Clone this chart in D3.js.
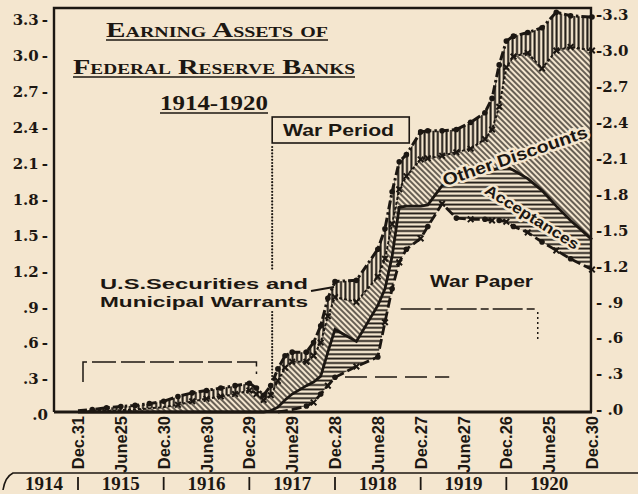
<!DOCTYPE html>
<html><head><meta charset="utf-8">
<script src="https://cdn.jsdelivr.net/npm/d3@7"></script>
<style>
html,body{margin:0;padding:0;background:#f4e6cf;}
svg{display:block;}
</style></head><body>
<svg id="chart" width="638" height="494"></svg>
<script>
// months after Dec 31, 1914
const months = [0,2,4,6,8,10,12,14,16,18,20,22,24,25,26,27,28,29,30,32,33,34,35,36,39,42,43,44,45,46,48,49,51,53,55,57,58,59,60,61,63,65,67,69,72];
// billions of dollars, cumulative boundaries (top to bottom)
const totalAssets = [0.01,0.02,0.035,0.045,0.055,0.07,0.09,0.13,0.16,0.18,0.2,0.22,0.24,0.2,0.14,0.22,0.36,0.47,0.5,0.5,0.58,0.72,0.95,1.09,1.1,1.36,1.53,1.84,2.09,2.15,2.34,2.35,2.35,2.36,2.42,2.5,2.62,2.9,3.1,3.14,3.17,3.21,3.34,3.31,3.3];
const lessSecurities = [0,0.005,0.01,0.015,0.02,0.03,0.04,0.06,0.09,0.11,0.13,0.15,0.18,0.15,0.1,0.14,0.26,0.37,0.42,0.42,0.47,0.58,0.8,0.96,0.92,1.13,1.28,1.57,1.86,1.97,2.11,2.12,2.14,2.17,2.2,2.28,2.36,2.55,2.88,2.97,3.0,2.87,3.02,3.05,3.02];
const warPaperAndAcceptances = [0,0,0,0,0,0,0,0,0,0,0,0,0,0,0,0.01,0.04,0.1,0.15,0.22,0.25,0.3,0.5,0.69,0.59,0.89,1.03,1.3,1.71,1.72,1.72,1.73,1.89,1.93,1.97,2.0,2.02,2.04,2.05,2.02,1.95,1.85,1.72,1.6,1.44];
const warPaper = [0,0,0,0,0,0,0,0,0,0,0,0,0,0,0,0,0,0.01,0.02,0.05,0.08,0.15,0.22,0.29,0.38,0.46,0.75,1.03,1.25,1.36,1.45,1.55,1.74,1.62,1.61,1.61,1.6,1.6,1.59,1.55,1.5,1.42,1.35,1.28,1.19];

const dateTickMonths = [0,6,12,18,24,30,36,42,48,54,60,66,72];
const dateTickLabels = ["Dec.31","June25","Dec.30","June30","Dec.29","June29","Dec.28","June28","Dec.27","June27","Dec.26","June25","Dec.30"];
const yearLabels = ["1914","1915","1916","1917","1918","1919","1920"];
const yTicks = [0,0.3,0.6,0.9,1.2,1.5,1.8,2.1,2.4,2.7,3.0,3.3];
const yTickLabels = [".0",".3",".6",".9","1.2","1.5","1.8","2.1","2.4","2.7","3.0","3.3"];
const warStart = 27.2, warEnd = 46.4;

const ink = "#1c1712", bg = "#f4e6cf";
const svg = d3.select("#chart");
svg.append("rect").attr("width",638).attr("height",494).attr("fill",bg);

const x = d3.scaleLinear().domain([0,72]).range([78,592]);
const y = d3.scaleLinear().domain([0,3.3]).range([412,17]);

const defs = svg.append("defs");
function hatch(id, angle, sw, size){
  const p = defs.append("pattern").attr("id",id).attr("patternUnits","userSpaceOnUse")
    .attr("width",size).attr("height",size).attr("patternTransform",`rotate(${angle})`);
  p.append("rect").attr("width",size).attr("height",size).attr("fill",bg);
  p.append("line").attr("x1",size/2).attr("x2",size/2).attr("y1",-1).attr("y2",size+1)
    .attr("stroke",ink).attr("stroke-width",sw);
}
hatch("vh",0,2,4.4);
hatch("dh",-45,1.3,4);
hatch("hh",90,1.8,4.4);

const pts = months.map((m,i)=>({m, t:totalAssets[i], s:lessSecurities[i], a:warPaperAndAcceptances[i], w:warPaper[i]}));

// bands
const band = (lo,hi)=>d3.area().x(d=>x(d.m)).y0(d=>y(d[lo])).y1(d=>y(d[hi]));
svg.append("path").datum(pts).attr("d",band("s","t")).attr("fill","url(#vh)");
svg.append("path").datum(pts).attr("d",band("a","s")).attr("fill","url(#dh)");
svg.append("path").datum(pts).attr("d",band("w","a")).attr("fill","url(#hh)");

// frame
svg.append("path").attr("d",`M54,412V8H591V412`).attr("fill","none").attr("stroke",ink).attr("stroke-width",2.4);
svg.append("line").attr("x1",54).attr("x2",592).attr("y1",412).attr("y2",412).attr("stroke",ink).attr("stroke-width",3);

// lines
const line = k=>d3.line().x(d=>x(d.m)).y(d=>y(d[k]));
svg.append("path").datum(pts.filter(d=>d.m>=28)).attr("d",line("w")).attr("fill","none").attr("stroke",ink).attr("stroke-width",2.8).attr("stroke-dasharray","10,4");
svg.append("path").datum(pts).attr("d",line("a")).attr("fill","none").attr("stroke",ink).attr("stroke-width",2.8);
svg.append("path").datum(pts).attr("d",line("s")).attr("fill","none").attr("stroke",ink).attr("stroke-width",2).attr("stroke-dasharray","3,2");
svg.append("path").datum(pts).attr("d",line("t")).attr("fill","none").attr("stroke",ink).attr("stroke-width",3).attr("stroke-dasharray","9,3,2.5,3");

// markers
svg.append("g").selectAll("circle").data(pts.filter(d=>d.m>=2)).join("circle")
  .attr("cx",d=>x(d.m)).attr("cy",d=>y(d.t)).attr("r",2.8).attr("fill",ink);
const xm = "M-2.8,-2.8L2.8,2.8M-2.8,2.8L2.8,-2.8";
svg.append("g").selectAll("path").data(pts.filter(d=>d.m>=14)).join("path")
  .attr("transform",d=>`translate(${x(d.m)},${y(d.s)})`).attr("d",xm).attr("stroke",ink).attr("stroke-width",2);
const wp = pts.filter(d=>d.m>=32);
svg.append("g").selectAll("g").data(wp).join(function(enter){
  const g = enter.append("g").attr("transform",d=>`translate(${x(d.m)},${y(d.w)})`);
  g.each(function(d,i){
    if(i%2===0) d3.select(this).append("circle").attr("r",2.8).attr("fill",ink);
    else d3.select(this).append("path").attr("d",xm).attr("stroke",ink).attr("stroke-width",2);
  });
  return g;
});

// y axis labels
const serif = "'DejaVu Serif', serif", sans = "'Liberation Sans', Arial, sans-serif";
svg.append("g").selectAll("text").data(yTicks).join("text")
  .attr("x",48).attr("y",d=>y(d)+3).attr("dy","0.35em").attr("text-anchor","end")
  .attr("font-family",serif).attr("font-weight","bold").attr("font-size",15).attr("fill",ink)
  .text((d,i)=>yTickLabels[i] + (i>0?"\u2009-":""));
svg.append("g").selectAll("text").data(yTicks).join("text")
  .attr("x",596).attr("y",d=>y(d)-2).attr("dy","0.35em").attr("text-anchor","start")
  .attr("font-family",serif).attr("font-weight","bold").attr("font-size",15).attr("fill",ink)
  .text((d,i)=>(d<1?"- ":"-") + yTickLabels[i]);

// x date labels
svg.append("g").selectAll("text").data(dateTickMonths).join("text")
  .attr("transform",d=>`translate(${x(d)},416) rotate(-90)`).attr("dy","0.37em").attr("text-anchor","end")
  .attr("font-family",sans).attr("font-weight","bold").attr("font-size",16.5).attr("fill",ink)
  .text((d,i)=>dateTickLabels[i]);

// year row
svg.append("path").attr("d","M3,490Q5,477 13,473H638").attr("fill","none").attr("stroke",ink).attr("stroke-width",1.6);
svg.append("g").selectAll("line").data([0,12,24,36,48,60]).join("line")
  .attr("x1",d=>x(d)).attr("x2",d=>x(d)).attr("y1",477).attr("y2",490).attr("stroke",ink).attr("stroke-width",1.8);
svg.append("g").selectAll("text").data(yearLabels).join("text")
  .attr("x",(d,i)=>Math.max(44,x(12*i-6))).attr("y",490).attr("text-anchor","middle")
  .attr("font-family","'Liberation Serif', serif").attr("font-weight","bold").attr("font-size",19).attr("fill",ink)
  .text(d=>d);

// title
const titleLines = [["Earning Assets of",106,328,37],["Federal Reserve Banks",73,355,74],["1914-1920",160,268,110]];
titleLines.forEach(([t,x0,x1,yb])=>{
  svg.append("text").attr("x",x0).attr("y",yb).attr("textLength",x1-x0).attr("lengthAdjust","spacingAndGlyphs")
    .attr("font-family","'Liberation Serif', serif").attr("font-weight","bold").attr("font-size",22)
    .style("font-variant","small-caps").attr("fill",ink).text(t);
  svg.append("line").attr("x1",x0).attr("x2",x1).attr("y1",yb+3).attr("y2",yb+3).attr("stroke",ink).attr("stroke-width",1.6);
});

// war period box and dotted war line
const xw0 = x(warStart), xw1 = x(warEnd);
svg.append("rect").attr("x",xw0).attr("y",117).attr("width",xw1-xw0).attr("height",26).attr("fill",bg).attr("stroke",ink).attr("stroke-width",1.6);
svg.append("text").attr("x",283).attr("y",136).attr("textLength",111).attr("lengthAdjust","spacingAndGlyphs")
  .attr("font-family",sans).attr("font-weight","bold").attr("font-size",17).attr("fill",ink).text("War Period");
[[147,270],[312,381]].forEach(([a,b])=>{
  svg.append("g").selectAll("circle").data(d3.range(a,b,3.2)).join("circle")
    .attr("cx",xw0).attr("cy",d=>d).attr("r",1.1).attr("fill",ink);
});

// brackets
svg.append("path").attr("d",`M${x(0.7)},382V362H${x(25)}V374`).attr("fill","none").attr("stroke",ink).attr("stroke-width",1.5).attr("stroke-dasharray","24,5");
svg.append("path").attr("d",`M${x(45.2)},309H${x(64.4)}`).attr("fill","none").attr("stroke",ink).attr("stroke-width",1.5).attr("stroke-dasharray","30,4,8,4");
svg.append("path").attr("d",`M${x(64.4)},312V340`).attr("fill","none").attr("stroke",ink).attr("stroke-width",1.5).attr("stroke-dasharray","2,3");
svg.append("path").attr("d",`M${x(37.4)},377H${x(52)}`).attr("fill","none").attr("stroke",ink).attr("stroke-width",1.5).attr("stroke-dasharray","22,8");

// securities label
[["U.S.Securities and",289],["Municipal Warrants",307]].forEach(([t,yb])=>{
  svg.append("text").attr("x",100).attr("y",yb).attr("textLength",208).attr("lengthAdjust","spacingAndGlyphs")
    .attr("font-family",sans).attr("font-weight","bold").attr("font-size",15).attr("fill",ink).text(t);
});
svg.append("line").attr("x1",311).attr("y1",291).attr("x2",334).attr("y2",287).attr("stroke",ink).attr("stroke-width",2);

svg.append("text").attr("x",430).attr("y",287).attr("textLength",103).attr("lengthAdjust","spacingAndGlyphs")
  .attr("font-family",sans).attr("font-weight","bold").attr("font-size",16).attr("fill",ink).text("War Paper");

// band labels
function bandLabel(t,cx,cy,ang,len,fs){
  svg.append("text").attr("transform",`translate(${cx},${cy}) rotate(${ang})`)
    .attr("text-anchor","middle").attr("dy","0.35em").attr("textLength",len).attr("lengthAdjust","spacingAndGlyphs")
    .attr("font-family",sans).attr("font-weight","bold").attr("font-size",fs).attr("fill",ink)
    .attr("stroke",bg).attr("stroke-width",5).attr("paint-order","stroke").attr("stroke-linejoin","round").text(t);
}
bandLabel("Other Discounts",515,156,-19,152,17);
bandLabel("Acceptances",532,217,32,108,15);
</script>
</body></html>
